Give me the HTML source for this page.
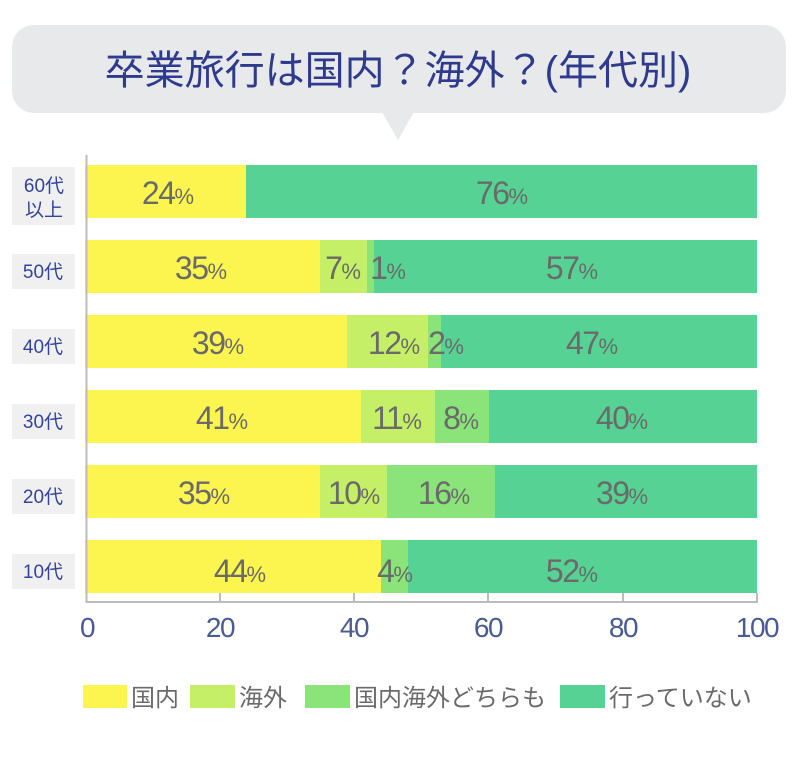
<!DOCTYPE html>
<html><head><meta charset="utf-8"><style>
body{margin:0;background:#fff;}
svg{display:block;font-family:"Liberation Sans","Noto Sans CJK JP",sans-serif;}
.l{font-size:32px;fill:#6a6a6a;text-anchor:middle;letter-spacing:-1.5px}
.l tspan{font-size:22px;letter-spacing:0}
.y{font-size:19px;fill:#33449a;text-anchor:middle}
.t{font-size:24px;fill:#6a6a6a}
.x{font-size:28px;fill:#4a5b94;text-anchor:middle;letter-spacing:-1.5px}
</style></head><body>
<svg width="800" height="783" viewBox="0 0 800 783">
<rect x="12" y="25" width="774" height="88" rx="22" fill="#e8e9eb"/>
<polygon points="382,112 414,112 398,140" fill="#e8e9eb"/>
<text x="398" y="84" font-size="40" fill="#2e3a8c" text-anchor="middle">卒業旅行は国内？海外？(年代別)</text>

<g>
<rect x="12" y="167" width="63" height="58" fill="#f0f0f0"/>
<text class="y" x="44" y="192">60代</text><text class="y" x="44" y="216">以上</text>
<rect x="12" y="254" width="63" height="35" fill="#f0f0f0"/><text class="y" x="43" y="278">50代</text>
<rect x="12" y="329" width="63" height="35" fill="#f0f0f0"/><text class="y" x="43" y="353">40代</text>
<rect x="12" y="404" width="63" height="35" fill="#f0f0f0"/><text class="y" x="43" y="428">30代</text>
<rect x="12" y="479" width="63" height="35" fill="#f0f0f0"/><text class="y" x="43" y="503">20代</text>
<rect x="12" y="554" width="63" height="35" fill="#f0f0f0"/><text class="y" x="43" y="578">10代</text>
</g>

<g>
<rect x="85" y="165" width="161" height="53" fill="#fdf54f"/>
<rect x="246" y="165" width="511" height="53" fill="#56d394"/>
<rect x="85" y="240" width="235" height="53" fill="#fdf54f"/>
<rect x="320" y="240" width="47" height="53" fill="#c5ef66"/>
<rect x="367" y="240" width="7" height="53" fill="#8ae47a"/>
<rect x="374" y="240" width="383" height="53" fill="#56d394"/>
<rect x="85" y="315" width="262" height="53" fill="#fdf54f"/>
<rect x="347" y="315" width="81" height="53" fill="#c5ef66"/>
<rect x="428" y="315" width="13" height="53" fill="#8ae47a"/>
<rect x="441" y="315" width="316" height="53" fill="#56d394"/>
<rect x="85" y="390" width="276" height="53" fill="#fdf54f"/>
<rect x="361" y="390" width="74" height="53" fill="#c5ef66"/>
<rect x="435" y="390" width="54" height="53" fill="#8ae47a"/>
<rect x="489" y="390" width="268" height="53" fill="#56d394"/>
<rect x="85" y="465" width="235" height="53" fill="#fdf54f"/>
<rect x="320" y="465" width="67" height="53" fill="#c5ef66"/>
<rect x="387" y="465" width="108" height="53" fill="#8ae47a"/>
<rect x="495" y="465" width="262" height="53" fill="#56d394"/>
<rect x="85" y="540" width="296" height="53" fill="#fdf54f"/>
<rect x="381" y="540" width="27" height="53" fill="#8ae47a"/>
<rect x="408" y="540" width="349" height="53" fill="#56d394"/>
</g>

<g>
<text class="l" x="168" y="204">24<tspan>%</tspan></text>
<text class="l" x="502" y="204">76<tspan>%</tspan></text>
<text class="l" x="201" y="279">35<tspan>%</tspan></text>
<text class="l" x="343" y="279">7<tspan>%</tspan></text>
<text class="l" x="388" y="279">1<tspan>%</tspan></text>
<text class="l" x="572" y="279">57<tspan>%</tspan></text>
<text class="l" x="218" y="354">39<tspan>%</tspan></text>
<text class="l" x="394" y="354">12<tspan>%</tspan></text>
<text class="l" x="446" y="354">2<tspan>%</tspan></text>
<text class="l" x="592" y="354">47<tspan>%</tspan></text>
<text class="l" x="222" y="429">41<tspan>%</tspan></text>
<text class="l" x="397" y="429">11<tspan>%</tspan></text>
<text class="l" x="461" y="429">8<tspan>%</tspan></text>
<text class="l" x="622" y="429">40<tspan>%</tspan></text>
<text class="l" x="204" y="504">35<tspan>%</tspan></text>
<text class="l" x="354" y="504">10<tspan>%</tspan></text>
<text class="l" x="444" y="504">16<tspan>%</tspan></text>
<text class="l" x="622" y="504">39<tspan>%</tspan></text>
<text class="l" x="240" y="582">44<tspan>%</tspan></text>
<text class="l" x="395" y="582">4<tspan>%</tspan></text>
<text class="l" x="572" y="582">52<tspan>%</tspan></text>
</g>

<g stroke="#bcbcbc" stroke-width="2" fill="none">
<line x1="86.5" y1="155" x2="86.5" y2="603"/>
<line x1="86" y1="602" x2="757" y2="602"/>
<line x1="220" y1="593" x2="220" y2="602"/>
<line x1="354" y1="593" x2="354" y2="602"/>
<line x1="488" y1="593" x2="488" y2="602"/>
<line x1="623" y1="593" x2="623" y2="602"/>
<line x1="757" y1="593" x2="757" y2="603"/>
</g>
<g>
<text class="x" x="87" y="637">0</text>
<text class="x" x="220" y="637">20</text>
<text class="x" x="354" y="637">40</text>
<text class="x" x="488" y="637">60</text>
<text class="x" x="623" y="637">80</text>
<text class="x" x="757" y="637">100</text>
</g>

<g>
<rect x="83" y="685" width="44" height="23" fill="#fdf54f"/><text class="t" x="131" y="706">国内</text>
<rect x="190" y="685" width="45" height="23" fill="#c5ef66"/><text class="t" x="239" y="706">海外</text>
<rect x="305" y="685" width="45" height="23" fill="#8ae47a"/><text class="t" x="354" y="706">国内海外どちらも</text>
<rect x="560" y="685" width="45" height="23" fill="#56d394"/><text class="t" x="609" y="706">行っていない</text>
</g>
</svg>
</body></html>
